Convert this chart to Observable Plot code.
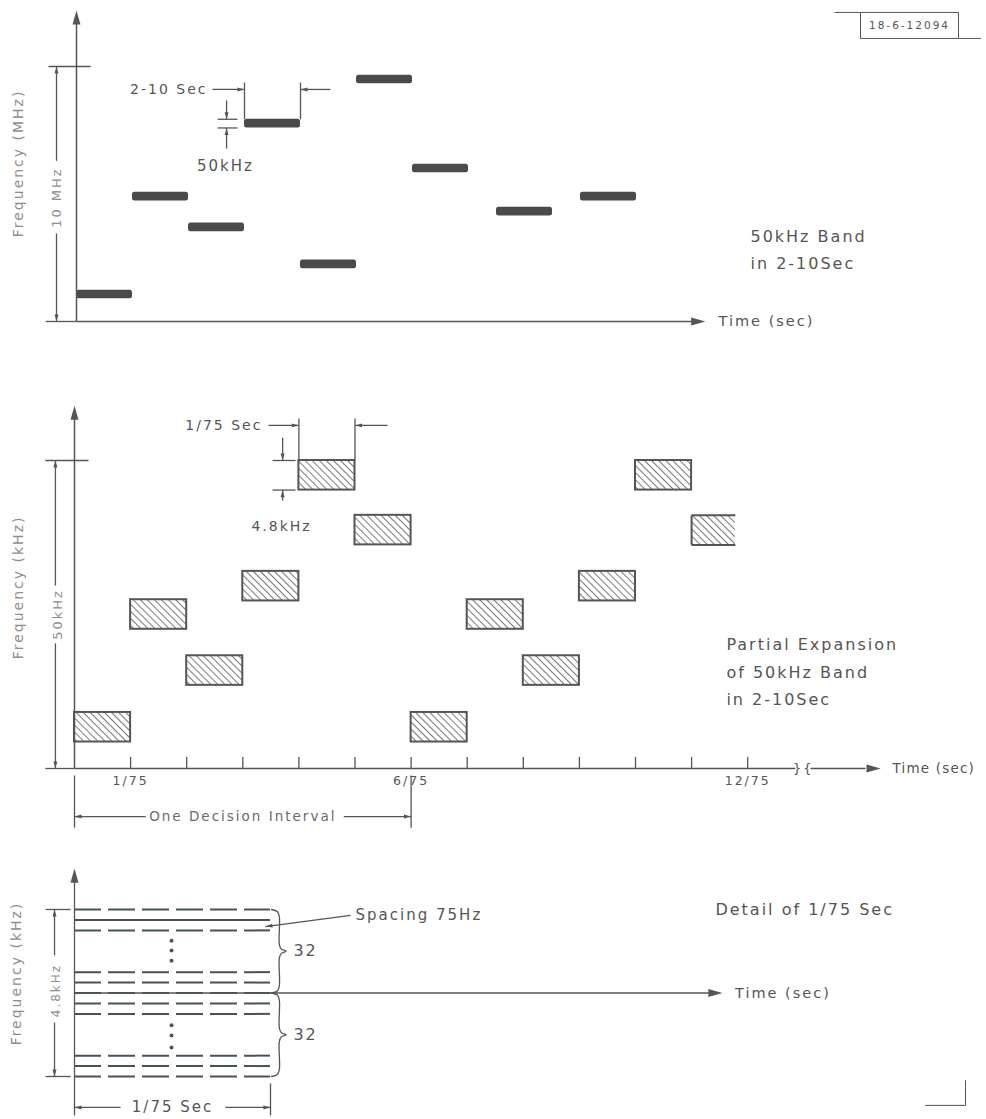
<!DOCTYPE html>
<html><head><meta charset="utf-8">
<script src="https://cdn.jsdelivr.net/npm/d3@7"></script>
<script src="https://cdn.jsdelivr.net/npm/@observablehq/plot@0.6"></script>
<style>html,body{margin:0;padding:0;background:#fff}#chart svg{display:block}</style>
</head><body><div id="chart"></div>
<script>
// ---------------- data ----------------
// Panel 1: hops over the 10 MHz band, each hop 2-10 sec (time in arbitrary sec units)
const hopStartSec = [0, 2, 4, 6, 8, 10, 12, 15, 18];
const hopEndSec   = [2, 4, 6, 8, 10, 12, 14, 17, 20];
const hopFreqMHz  = [1.06, 4.9, 3.69, 7.76, 2.24, 9.49, 6.0, 4.31, 4.9];
// Panel 2: partial expansion of the 50 kHz band, slots of 1/75 sec
const slotIndex  = [0, 1, 2, 3, 4, 5, 6, 7, 8, 9, 10, 11];
const slotTopKHz = [9.1, 27.4, 18.3, 32.0, 50.0, 41.1, 9.1, 27.4, 18.3, 32.0, 50.0, 41.1];
const subBandKHz = 4.8;
const windowEndSlot = 11.78;
const tickSlots = [1, 2, 3, 4, 5, 6, 7, 8, 9, 10, 11, 12];
const tickLabelSlots = [1, 6, 12];
const tickLabels = ["1/75", "6/75", "12/75"];
// Panel 3: detail of 1/75 sec, tones spaced 75 Hz (drawn subset)
const toneKHz   = [4.8, 4.5, 4.2, 3.0, 2.7, 2.4, 2.1, 1.8, 0.6, 0.3, 0.0];
const toneSolid = [false, true, false, false, false, false, false, false, false, false, false];
const ellipsisKHz = [3.9, 3.62, 3.33, 1.47, 1.18, 0.83];
const groupLabels = ["32", "32"];
const groupTopKHz = [4.8, 2.4];
const groupBotKHz = [2.4, 0.0];

// ---------------- helpers ----------------
const INK = "#555", TXT = "#555", LIGHT = "#8e8e8e", BAR = "#4a4a4a", TONE = "#46544f";
const FONT = "DejaVu Sans";
const arrowSym = {draw(ctx, size) {
  const h = Math.sqrt(size), w = h * 0.28;
  ctx.moveTo(0, 0); ctx.lineTo(w, h); ctx.lineTo(-w, h); ctx.closePath();
}};
function heads(list, r) {
  return list.map(([x, y, a]) => Plot.dot([{x, y}], {x: "x", y: "y", symbol: arrowSym, r, rotate: a, fill: INK, stroke: "none"}));
}
function segs(list, o = {}) {
  return Plot.link(list.map(([x1, y1, x2, y2]) => ({x1, y1, x2, y2})),
    {x1: "x1", y1: "y1", x2: "x2", y2: "y2", stroke: INK, strokeWidth: 1.3, ...o});
}
function texts(list, o = {}) {
  return Plot.text(list.map(([x, y, t]) => ({x, y, t})),
    {x: "x", y: "y", text: "t", fill: TXT, fontSize: 14, ...o});
}
function panel(o, marks) {
  return Plot.plot({
    width: 986, height: o.height,
    marginTop: o.mt, marginBottom: o.mb, marginLeft: o.ml, marginRight: o.mr,
    x: {domain: o.xd, axis: null}, y: {domain: o.yd, axis: null},
    style: {fontFamily: FONT, letterSpacing: "2px", background: "#fff"},
    marks
  });
}

// ---------------- panel 1 ----------------
const hops = hopStartSec.map((s, i) => ({s, e: hopEndSec[i], f: hopFreqMHz[i]}));
const barHalf = 0.17;
const p1 = panel({height: 340, mt: 66, mb: 19, ml: 76, mr: 281, xd: [0, 22.464], yd: [0, 10]}, [
  Plot.rect(hops, {x1: "s", x2: "e", y1: d => d.f - barHalf, y2: d => d.f + barHalf, fill: BAR, rx: 2.5}),
  segs([[0, 0, 0, 11.9], [0, 0, 22.1, 0]], {strokeWidth: 1.5}),
  ...heads([[0, 12.2, 0], [22.46, 0, 90]], 8),
  segs([[-1.0, 10, 0.5, 10], [-1.1, 0, 0, 0], [-0.714, 10, -0.714, 6.3], [-0.714, 3.45, -0.714, 0]]),
  ...heads([[-0.714, 10, 0], [-0.714, 0, 180]], 4),
  // 2-10 Sec dimension
  segs([[4.86, 9.1, 6.0, 9.1], [6, 9.37, 6, 7.93], [8, 9.37, 8, 7.93], [9.07, 9.1, 8.0, 9.1]]),
  ...heads([[6.0, 9.1, 90], [8.0, 9.1, 270]], 4),
  // 50 kHz dimension
  segs([[5.36, 8.67, 5.36, 7.93], [5.04, 7.93, 5.75, 7.93], [5.04, 7.59, 5.75, 7.59], [5.36, 6.78, 5.36, 7.59]]),
  ...heads([[5.36, 7.93, 180], [5.36, 7.59, 0]], 4),
  texts([[4.68, 9.1, "2-10 Sec"]], {textAnchor: "end"}),
  texts([[5.32, 6.08, "50kHz"]], {fontSize: 15}),
  texts([[24.07, 3.33, "50kHz Band"], [24.07, 2.27, "in 2-10Sec"]], {textAnchor: "start", fontSize: 16}),
  texts([[22.93, 0, "Time (sec)"]], {textAnchor: "start", fontSize: 14.5}),
  texts([[-2.07, 6.2, "Frequency (MHz)"]], {rotate: -90, fill: LIGHT, fontSize: 14}),
  texts([[-0.714, 4.86, "10 MHz"]], {rotate: -90, fill: LIGHT, fontSize: 13}),
  // drawing number box
  segs([[28.0, 11.1, 31.5, 11.1], [28.0, 12.12, 31.5, 12.12], [28.0, 11.1, 28.0, 12.12], [31.5, 11.1, 31.5, 12.12],
        [27.07, 12.12, 28.0, 12.12], [31.5, 11.1, 32.3, 11.1]], {strokeWidth: 1}),
  texts([[29.75, 11.6, "18-6-12094"]], {fontSize: 10.5})
]);

// ---------------- panel 2 ----------------
const boxes = slotIndex.map((s, i) => ({s, e: Math.min(s + 1, windowEndSlot), top: slotTopKHz[i]}));
const fullBoxes = boxes.filter(d => d.e === d.s + 1);
const partBoxes = boxes.filter(d => d.e !== d.s + 1);
const p2 = panel({height: 500, mt: 120, mb: 72, ml: 74, mr: 238.8, xd: [0, 12], yd: [0, 50]}, [
  Plot.rect(boxes, {x1: "s", x2: "e", y1: d => d.top - subBandKHz, y2: "top", fill: "url(#hatch)"}),
  Plot.rect(fullBoxes, {x1: "s", x2: "e", y1: d => d.top - subBandKHz, y2: "top", fill: "none", stroke: INK, strokeWidth: 2}),
  Plot.link(partBoxes, {x1: "s", x2: "e", y1: "top", y2: "top", stroke: INK, strokeWidth: 2}),
  Plot.link(partBoxes, {x1: "s", x2: "e", y1: d => d.top - subBandKHz, y2: d => d.top - subBandKHz, stroke: INK, strokeWidth: 2}),
  Plot.link(partBoxes, {x1: "s", x2: "s", y1: "top", y2: d => d.top - subBandKHz, stroke: INK, strokeWidth: 2}),
  segs([[0, 0, 0, 57.8], [0, 0, 12.85, 0], [13.12, 0, 14.1, 0]], {strokeWidth: 1.5}),
  ...heads([[0, 58.9, 0], [14.37, 0, 90]], 8),
  Plot.ruleX(tickSlots, {x: d => d, y1: () => 0, y2: () => 1.8, stroke: INK, strokeWidth: 1.3}),
  texts([[12.9, -0.1, "}"], [13.08, -0.1, "{"]], {fontSize: 13, fill: INK}),
  Plot.text(tickLabelSlots, {x: d => d, y: () => -2.1, text: (d, i) => tickLabels[i], fill: TXT, fontSize: 12.5}),
  texts([[14.58, 0, "Time (sec)"]], {textAnchor: "start", fontSize: 13.5, letterSpacing: "1.5px"}),
  segs([[-0.52, 50, 0.25, 50], [-0.52, 0, 0, 0], [-0.34, 50, -0.34, 29.7], [-0.34, 20.3, -0.34, 0]]),
  ...heads([[-0.34, 50, 0], [-0.34, 0, 180]], 4),
  texts([[-0.30, 25, "50kHz"]], {rotate: -90, fill: LIGHT, fontSize: 13}),
  texts([[-1.0, 29.4, "Frequency (kHz)"]], {rotate: -90, fill: LIGHT, fontSize: 14}),
  // 1/75 Sec dimension
  segs([[3.46, 55.7, 4, 55.7], [4, 56.8, 4, 50], [5, 56.8, 5, 50], [5.58, 55.7, 5, 55.7]]),
  ...heads([[4, 55.7, 90], [5, 55.7, 270]], 4),
  texts([[3.35, 55.7, "1/75 Sec"]], {textAnchor: "end", fontSize: 14}),
  // 4.8 kHz dimension
  segs([[3.71, 53.7, 3.71, 50], [3.53, 50, 3.94, 50], [3.53, 45.2, 3.94, 45.2], [3.71, 43.5, 3.71, 45.2]]),
  ...heads([[3.71, 50, 180], [3.71, 45.2, 0]], 4),
  texts([[3.69, 39.3, "4.8kHz"]], {fontSize: 14}),
  texts([[11.62, 20.0, "Partial Expansion"], [11.62, 15.6, "of 50kHz Band"], [11.62, 11.2, "in 2-10Sec"]], {textAnchor: "start", fontSize: 16}),
  // decision interval
  segs([[0, -1.14, 0, -9.6], [6, -1.14, 6, -9.6], [1.27, -7.8, 0, -7.8], [4.8, -7.8, 6, -7.8]]),
  ...heads([[0, -7.8, 270], [6, -7.8, 90]], 4),
  texts([[3.0, -7.8, "One Decision Interval"]], {fontSize: 13.5, fill: "#6a6a6a"})
]);
{
  const defs = document.createElementNS("http://www.w3.org/2000/svg", "defs");
  defs.innerHTML = '<pattern id="hatch" patternUnits="userSpaceOnUse" width="5" height="5" patternTransform="rotate(-45)">' +
    '<rect width="5" height="5" fill="#fff"/><line x1="0" y1="0" x2="0" y2="5" stroke="#555" stroke-width="1.6"/></pattern>';
  p2.prepend(defs);
  // tighter spacing for the right-edge label so it stays inside the page
  p2.querySelectorAll("text").forEach(t => { if (t.textContent === "Time (sec)") t.style.letterSpacing = "1.2px"; });
}

// ---------------- panel 3 ----------------
const tones = toneKHz.map((f, i) => ({f, solid: toneSolid[i]}));
const braces = [];
groupTopKHz.forEach((top, g) => {
  const bot = groupBotKHz[g], mid = (top + bot) / 2;
  [[1.005, top], [1.035, top - 0.06], [1.045, top - 0.2], [1.045, mid + 0.2], [1.055, mid + 0.06], [1.08, mid],
   [1.055, mid - 0.06], [1.045, mid - 0.2], [1.045, bot + 0.2], [1.035, bot + 0.06], [1.005, bot]]
    .forEach(([x, y]) => braces.push({g, x, y}));
});
const p3 = panel({height: 279, mt: 69, mb: 43, ml: 74, mr: 716, xd: [0, 1], yd: [0, 4.8]}, [
  Plot.ruleY(tones.filter(d => !d.solid), {y: "f", x1: () => 0, x2: () => 1, stroke: TONE, strokeWidth: 2, strokeDasharray: "27,7"}),
  Plot.ruleY(tones.filter(d => d.solid), {y: "f", x1: () => 0, x2: () => 1, stroke: TONE, strokeWidth: 2}),
  segs([[0, -1.12, 0, 5.7], [0, 2.4, 3.25, 2.4]], {strokeWidth: 1.3}),
  ...heads([[0, 5.98, 0], [3.306, 2.4, 90]], 8),
  Plot.dot(ellipsisKHz, {x: () => 0.495, y: d => d, r: 2, fill: INK, stroke: "none"}),
  Plot.line(braces, {x: "x", y: "y", z: "g", curve: "catmull-rom", stroke: INK, strokeWidth: 1.3}),
  Plot.text(groupLabels, {x: () => 1.117, y: (d, i) => (groupTopKHz[i] + groupBotKHz[i]) / 2, text: d => d, textAnchor: "start", fill: TXT, fontSize: 16}),
  segs([[1.408, 4.63, 0.974, 4.31]]),
  ...heads([[0.974, 4.31, 262.6]], 4),
  texts([[1.434, 4.63, "Spacing 75Hz"]], {textAnchor: "start", fontSize: 15}),
  texts([[3.27, 4.8, "Detail of 1/75 Sec"]], {textAnchor: "start", fontSize: 16}),
  texts([[3.37, 2.4, "Time (sec)"]], {textAnchor: "start", fontSize: 14.5}),
  segs([[-0.148, 4.8, -0.02, 4.8], [-0.148, 0, -0.02, 0], [-0.102, 4.8, -0.102, 3.48], [-0.102, 1.55, -0.102, 0]]),
  ...heads([[-0.102, 4.8, 0], [-0.102, 0, 180]], 4),
  texts([[-0.092, 2.47, "4.8kHz"]], {rotate: -90, fill: LIGHT, fontSize: 12}),
  texts([[-0.296, 2.96, "Frequency (kHz)"]], {rotate: -90, fill: LIGHT, fontSize: 14}),
  segs([[1, -0.2, 1, -1.12], [0.235, -0.89, 0, -0.89], [0.77, -0.89, 1, -0.89]]),
  ...heads([[0, -0.89, 270], [1, -0.89, 90]], 4),
  texts([[0.5, -0.89, "1/75 Sec"]], {fontSize: 15}),
  segs([[4.546, -0.11, 4.546, -0.83], [4.34, -0.83, 4.546, -0.83]], {strokeWidth: 1})
]);

const chart = document.getElementById("chart");
chart.append(p1, p2, p3);
</script>
</body></html>
